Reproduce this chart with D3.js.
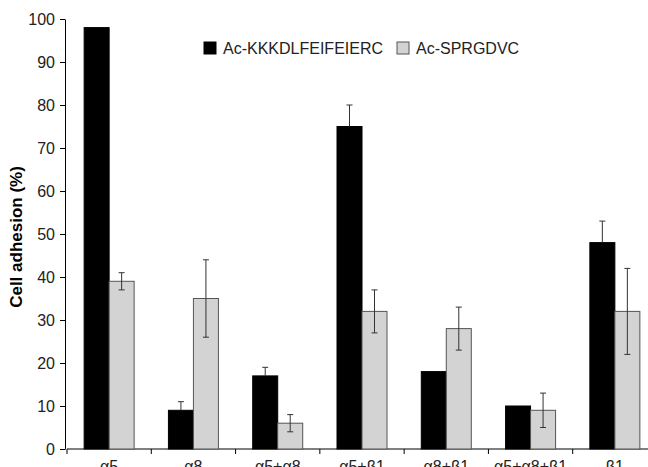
<!DOCTYPE html>
<html>
<head>
<meta charset="utf-8">
<script src="https://cdn.jsdelivr.net/npm/d3@7"></script>
<style>
  body { margin: 0; background: #fff; }
  svg { display: block; font-family: "Liberation Sans", Arial, sans-serif; }
</style>
</head>
<body>
<div id="chart"></div>
<script>

// data
var categories = ["α5", "α8", "α5+α8", "α5+β1", "α8+β1", "α5+α8+β1", "β1"];
var seriesNames = ["Ac-KKKDLFEIFEIERC", "Ac-SPRGDVC"];
var kkkValues = [98, 9, 17, 75, 18, 10, 48];
var kkkErrors = [0, 2, 2, 5, 0, 0, 5];
var sprValues = [39, 35, 6, 32, 28, 9, 32];
var sprErrors = [2, 9, 2, 5, 5, 4, 10];
var yTicks = [0, 10, 20, 30, 40, 50, 60, 70, 80, 90, 100];

var width = 648, height = 467;
var colors = ["#000000", "#d3d3d3"];

var svg = d3.select("#chart")
  .append("svg")
    .attr("width", width)
    .attr("height", height);

// scales
var x = d3.scaleBand()
  .domain(categories)
  .range([67, 657]);

var y = d3.scaleLinear()
  .domain([0, 100])
  .range([449, 19]);

var barW = 25;

// Y axis
var yAxis = svg.append("g")
  .attr("transform", "translate(65,0)")
  .call(d3.axisLeft(y).tickValues(yTicks).tickSize(5).tickPadding(5).tickSizeOuter(0));
yAxis.select(".domain").attr("stroke", "#000");
yAxis.selectAll(".tick line").attr("stroke", "#000");
yAxis.selectAll("text")
  .attr("font-size", 16)
  .attr("font-family", "Liberation Sans, Arial, sans-serif")
  .attr("fill", "#222");

// X axis
var xAxis = svg.append("g")
  .attr("transform", "translate(0,449)");
xAxis.append("line")
  .attr("x1", x.range()[0]).attr("x2", x.range()[1])
  .attr("stroke", "#000");
xAxis.selectAll(".xtick")
  .data(categories)
  .enter().append("line")
    .attr("x1", function(d) { return x(d); })
    .attr("x2", function(d) { return x(d); })
    .attr("y1", 0).attr("y2", 5)
    .attr("stroke", "#000");
xAxis.selectAll(".xlabel")
  .data(categories)
  .enter().append("text")
    .attr("x", function(d) { return x(d) + x.bandwidth() / 2; })
    .attr("y", 23)
    .attr("text-anchor", "middle")
    .attr("font-size", 16)
    .attr("fill", "#222")
    .text(function(d) { return d; });

// y label
svg.append("text")
  .attr("transform", "translate(22,237) rotate(-90)")
  .attr("text-anchor", "middle")
  .attr("font-size", 17)
  .attr("font-weight", "bold")
  .text("Cell adhesion (%)");

// bars
var series = [
  {name: seriesNames[0], values: kkkValues, errors: kkkErrors, off: -barW},
  {name: seriesNames[1], values: sprValues, errors: sprErrors, off: 0}
];

series.forEach(function(s, si) {
  var g = svg.append("g");
  g.selectAll("rect")
    .data(categories)
    .enter().append("rect")
      .attr("x", function(d) { return x(d) + x.bandwidth() / 2 + s.off; })
      .attr("y", function(d, i) { return y(s.values[i]); })
      .attr("width", barW)
      .attr("height", function(d, i) { return y(0) - y(s.values[i]); })
      .attr("fill", colors[si])
      .attr("stroke", si == 0 ? "#000" : "#555")
      .attr("stroke-width", 1);

  // error bars
  categories.forEach(function(d, i) {
    if (!s.errors[i]) return;
    var cx = x(d) + x.bandwidth() / 2 + s.off + barW / 2;
    var top = y(s.values[i] + s.errors[i]);
    var bot = y(s.values[i] - s.errors[i]);
    g.append("line")
      .attr("x1", cx).attr("x2", cx)
      .attr("y1", top).attr("y2", si == 0 ? y(s.values[i]) : bot)
      .attr("stroke", "#333");
    g.append("line")
      .attr("x1", cx - 3).attr("x2", cx + 3)
      .attr("y1", top).attr("y2", top)
      .attr("stroke", "#333");
    if (si == 1) {
      g.append("line")
        .attr("x1", cx - 3).attr("x2", cx + 3)
        .attr("y1", bot).attr("y2", bot)
        .attr("stroke", "#333");
    }
  });
});

// legend
var legendX = [204, 397];
series.forEach(function(s, si) {
  svg.append("rect")
    .attr("x", legendX[si]).attr("y", 42)
    .attr("width", 12).attr("height", 12)
    .attr("fill", colors[si])
    .attr("stroke", si == 0 ? "#000" : "#555");
  svg.append("text")
    .attr("x", legendX[si] + 19).attr("y", 54)
    .attr("font-size", 16)
    .attr("fill", "#222")
    .text(s.name);
});

</script>
</body>
</html>
